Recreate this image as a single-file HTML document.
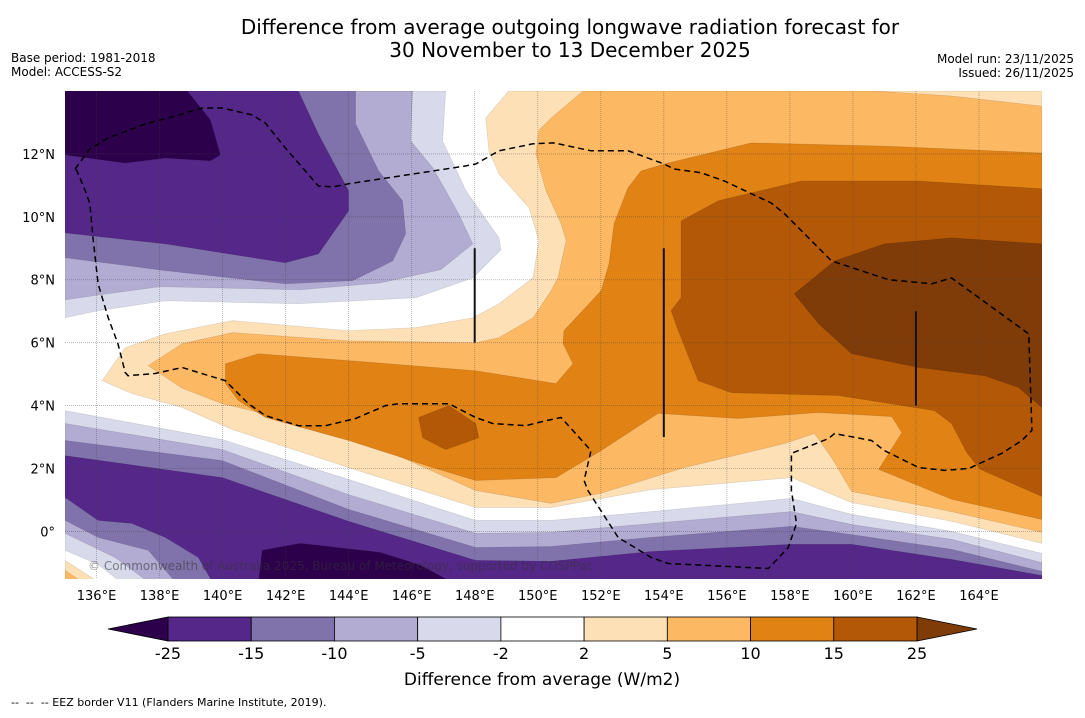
<!DOCTYPE html>
<html><head><meta charset="utf-8"><style>
html,body{margin:0;padding:0;background:#fff;}
body{width:1085px;height:713px;overflow:hidden;font-family:"Liberation Sans","DejaVu Sans",sans-serif;}
svg text{font-family:"DejaVu Sans","Liberation Sans",sans-serif;}
</style></head><body>
<svg id="chart" width="1085" height="713" viewBox="0 0 1085 713" xmlns="http://www.w3.org/2000/svg">
<text x="570" y="34" font-size="20" text-anchor="middle" fill="#000">Difference from average outgoing longwave radiation forecast for</text>
<text x="570" y="57" font-size="20" text-anchor="middle" fill="#000">30 November to 13 December 2025</text>
<text x="11" y="62" font-size="12" fill="#000">Base period: 1981-2018</text>
<text x="11" y="76" font-size="12" fill="#000">Model: ACCESS-S2</text>
<text x="1074" y="63" font-size="12" text-anchor="end" fill="#000">Model run: 23/11/2025</text>
<text x="1074" y="77" font-size="12" text-anchor="end" fill="#000">Issued: 26/11/2025</text>
<defs><clipPath id="mapclip"><rect x="65" y="91" width="977" height="488"/></clipPath></defs>
<g id="map" clip-path="url(#mapclip)">
<rect x="65" y="91" width="977" height="488" fill="#ffffff"/>
<g id="contours"></g>
<g id="grid"></g>
<g id="features"></g>
</g>
<g id="xticks"></g>
<g id="yticks"></g>
<text x="88" y="570" font-size="12" fill="#333" fill-opacity="0.55">© Commonwealth of Australia 2025, Bureau of Meteorology, supported by COSPPac</text>
<g id="colorbar"></g>
<text x="542" y="685" font-size="17" text-anchor="middle" fill="#000">Difference from average (W/m2)</text>
<text x="11" y="706" font-size="11" fill="#000">-- &#160;-- &#160;-- EEZ border V11 (Flanders Marine Institute, 2019).</text>
</svg>
<script>
// ---- data ----
var lonTicks = [136,138,140,142,144,146,148,150,152,154,156,158,160,162,164];
var latTicks = [0,2,4,6,8,10,12];
var levelLabels = ["-25","-15","-10","-5","-2","2","5","10","15","25"];
var levelColors = ["#542788","#8073ac","#b2abd2","#d8daeb","#ffffff","#fee0b6","#fdb863","#e08214","#b35806"];
var extendLowColor = "#2d004b";
var extendHighColor = "#7f3b08";
// contour polygons [lon,lat], painted in order
var polyLe2Top = [[135,14],[147.08,14],[146.98,12.41],[147.72,10.83],[148.77,9.33],[148.83,8.95],[147.94,8.06],[146.13,7.43],[142.41,7.24],[138.18,7.33],[136.05,7.02],[135,6.79]];
var polyLe5Top = [[135,14],[146.03,14],[145.97,12.41],[146.67,11.56],[147.49,10.1],[147.94,9.14],[146.92,8.32],[145.01,7.9],[142.47,7.68],[138.02,7.78],[136.11,7.52],[135,7.36]];
var polyLe10Top = [[135,14],[144.22,14],[144.22,12.96],[144.95,11.46],[145.71,10.51],[145.81,9.46],[145.4,8.6],[144.12,7.97],[141.99,7.87],[138.18,8.29],[135,8.7]];
var polyLe15Top = [[135,14],[142.41,14],[143.04,12.63],[144,10.83],[144,10.19],[143.04,8.82],[141.99,8.54],[138.18,9.14],[135,9.49]];
var polyLe25Top = [[135,14],[138.88,14],[139.61,13.08],[139.93,11.97],[139.61,11.78],[138.18,11.87],[136.91,11.71],[135,11.97]];
var polyLe2Bot = [[135,3.84],[139.99,2.92],[144,1.65],[148.03,0.35],[150.42,0.35],[153.6,0.63],[158.05,1.05],[159.96,0.54],[163.13,0],[166,-0.7],[166,-1.6],[135,-1.6]];
var polyLe5Bot = [[135,3.43],[139.99,2.6],[144,1.17],[148.03,-0.06],[150.42,-0.03],[153.6,0.25],[158.05,0.63],[159.96,0.22],[163.13,-0.25],[166,-0.99],[166,-1.6],[135,-1.6]];
var polyLe10Bot = [[135,2.89],[139.99,2.25],[144,0.7],[148.03,-0.51],[150.42,-0.48],[153.6,-0.19],[158.05,0.16],[159.96,-0.1],[163.13,-0.57],[166,-1.27],[166,-1.6],[135,-1.6]];
var polyLe15Bot = [[135,2.41],[139.99,1.71],[144,0.32],[148.03,-0.92],[150.42,-0.95],[153.6,-0.64],[158.05,-0.41],[159.96,-0.41],[163.13,-0.89],[166,-1.4],[166,-1.6],[135,-1.6]];
var polyCorner10 = [[135,1.08],[136.05,0.35],[137.13,0.25],[138.18,-0.19],[139.23,-0.83],[139.67,-1.6],[135,-1.6]];
var polyCorner5 = [[135,0.35],[136.05,-0.19],[137.64,-0.6],[138.5,-1.6],[135,-1.6]];
var polyCorner2 = [[135,-0.06],[136.59,-0.83],[137.64,-1.6],[135,-1.6]];
var polyCornerW = [[135,-0.6],[136.05,-1.05],[136.75,-1.6],[135,-1.6]];
var polyCornerP2 = [[135,-0.92],[136.05,-1.6],[135,-1.6]];
var polyCornerP5 = [[135,-1.24],[135.54,-1.6],[135,-1.6]];
var polyLe25Bot = [[141.14,-1.6],[141.26,-0.6],[142.47,-0.38],[145.01,-0.67],[146.29,-1.08],[147.24,-1.6]];
var polyGe2 = [[136.18,4.79],[136.91,5.84],[138.18,6.28],[140.31,6.7],[144,6.38],[146.13,6.48],[147.94,6.79],[148.77,7.24],[149.85,8.06],[150.04,9.24],[149.72,10.29],[148.77,11.36],[148.45,12.1],[148.35,13.14],[149.08,14],[166,14],[166,-0.38],[163.13,0.32],[159.96,0.92],[158.05,1.71],[153.6,1.33],[150.42,0.76],[148.03,0.76],[144,2.03],[140.31,3.24],[138.72,3.94],[137.13,4.38]];
var polyGe5 = [[151.44,14],[150.42,13.14],[150.04,12.76],[149.94,12],[150.26,10.83],[150.74,9.78],[150.9,9.24],[150.64,8.06],[150.42,7.65],[149.85,6.79],[148.77,6.16],[148.03,6],[144,6.06],[140.31,6.32],[138.72,5.97],[137.64,5.27],[138.72,4.55],[139.99,4.06],[144,3.11],[148.03,1.3],[150.42,0.89],[152.01,1.21],[154.65,2.03],[157.83,2.79],[158.78,3.11],[159.32,2.35],[159.96,1.27],[163.13,0.63],[166,-0.03],[166,13.52],[163.13,13.84],[160.7,14]];
var polyGe10 = [[153.28,11.46],[154.14,11.71],[156.78,12.35],[161,12.25],[166,12.03],[166,0.38],[163.13,1.02],[160.82,1.97],[161.55,3.14],[161.23,3.65],[158.91,3.78],[156.36,3.59],[153.82,3.75],[152.01,2.57],[150.58,1.71],[148.03,1.62],[146.67,2.03],[144,2.89],[141.36,3.62],[140.5,4.16],[140.09,4.7],[140.09,5.33],[141.14,5.65],[144,5.43],[148.03,5.11],[150.58,4.7],[151.12,5.33],[150.8,5.97],[150.83,6.38],[152.01,7.65],[152.26,8.51],[152.42,9.78],[152.86,10.92]];
var polyGe15 = [[154.55,9.87],[155.73,10.51],[158.37,11.14],[162.09,11.14],[166,10.89],[166,1.11],[164.04,1.97],[163.61,2.51],[163.13,3.43],[162.59,3.84],[159.54,4.32],[156.14,4.41],[155.09,4.79],[154.46,6.38],[154.23,7.02],[154.55,7.43]];
var polyGe15Island = [[146.22,3.62],[147.18,4],[148.03,3.43],[148.13,2.98],[147.08,2.6],[146.35,2.98]];
var polyGe25 = [[158.14,7.55],[159.42,8.6],[161,9.14],[163.13,9.33],[166,9.14],[166,3.94],[165.26,4.57],[164.18,4.95],[162.09,5.21],[159.96,5.65],[158.91,6.6]];
var eezLine = [[135.32,11.52],[135.79,12.16],[136.37,12.51],[137.54,12.95],[138.5,13.21],[139.36,13.46],[139.99,13.46],[140.94,13.24],[141.36,12.98],[141.99,12.19],[143.04,10.98],[143.49,10.95],[144,11.05],[147.72,11.62],[148.03,11.68],[148.77,12.1],[149.85,12.32],[150.51,12.35],[151.69,12.1],[152.87,12.1],[154.01,11.68],[154.33,11.52],[155.19,11.4],[155.92,11.14],[157.41,10.44],[157.83,10.1],[159.32,8.6],[161.13,8.0],[162.5,7.87],[163.13,8.06],[165.58,6.28],[165.68,3.21],[165.36,2.89],[164.72,2.48],[163.67,2.0],[162.91,1.94],[162.09,2.03],[161.0,2.57],[160.59,2.89],[159.42,3.11],[159.22,2.95],[158.05,2.48],[158.05,1.3],[158.21,0.25],[157.95,-0.51],[157.32,-1.18],[154.14,-1.02],[153.6,-0.83],[152.55,-0.19],[151.59,1.3],[151.47,1.62],[151.69,2.57],[150.74,3.62],[150.26,3.52],[149.62,3.36],[148.57,3.43],[148.03,3.62],[147.18,4.06],[145.59,4.06],[145.17,4.0],[144.22,3.59],[143.27,3.36],[142.41,3.36],[141.36,3.68],[140.82,4.06],[140.09,4.79],[138.72,5.21],[137.86,5.02],[137.0,4.95],[136.91,5.05],[136.68,5.97],[136.37,6.79],[136.05,7.87],[135.89,9.33],[135.79,10.41],[135.64,10.83],[135.38,11.46],[135.32,11.52]];
var stationBars = [[148,9,6],[154,9,3],[162,7,4]];

// ---- scales ----
var LON0=135, LON1=166, LAT0=-1.5, LAT1=14;
var X0=65, X1=1042, Y0=91, Y1=578.6;
function xScale(lon){return X0+(lon-LON0)/(LON1-LON0)*(X1-X0);}
function yScale(lat){return Y0+(LAT1-lat)/(LAT1-LAT0)*(Y1-Y0);}
var NS="http://www.w3.org/2000/svg";
function pts(arr){return arr.map(function(p){return xScale(p[0]).toFixed(1)+","+yScale(p[1]).toFixed(1);}).join(" ");}

var layers = [
 [polyLe2Top,3,"contour-le-minus2-north"],[polyLe5Top,2,"contour-le-minus5-north"],[polyLe10Top,1,"contour-le-minus10-north"],[polyLe15Top,0,"contour-le-minus15-north"],[polyLe25Top,-1,"contour-le-minus25-north"],
 [polyGe2,5,"contour-ge2"],[polyGe5,6,"contour-ge5"],[polyGe10,7,"contour-ge10"],[polyGe15,8,"contour-ge15"],[polyGe15Island,8,"contour-ge15-island"],[polyGe25,9,"contour-ge25"],
 [polyLe2Bot,3,"contour-le-minus2-south"],[polyLe5Bot,2,"contour-le-minus5-south"],[polyLe10Bot,1,"contour-le-minus10-south"],[polyLe15Bot,0,"contour-le-minus15-south"],
 [polyCorner10,1,"contour-sw-minus10"],[polyCorner5,2,"contour-sw-minus5"],[polyCorner2,3,"contour-sw-minus2"],[polyCornerW,4,"contour-sw-neutral"],[polyCornerP2,5,"contour-sw-plus2"],[polyCornerP5,6,"contour-sw-plus5"],
 [polyLe25Bot,-1,"contour-le-minus25-south"]
];
function colorFor(i){return i<0?extendLowColor:(i>=levelColors.length?extendHighColor:levelColors[i]);}
var cg=document.getElementById("contours");
layers.forEach(function(L){
 var p=document.createElementNS(NS,"polygon");
 p.setAttribute("points",pts(L[0]));
 p.setAttribute("fill",colorFor(L[1]));
 p.setAttribute("stroke","rgba(0,0,0,0.12)");
 p.setAttribute("stroke-width","0.7");
 
 
 cg.appendChild(p);
});

// graticule
var gg=document.getElementById("grid");
lonTicks.forEach(function(lon){
 var l=document.createElementNS(NS,"line");
 l.setAttribute("x1",xScale(lon));l.setAttribute("x2",xScale(lon));l.setAttribute("y1",Y0);l.setAttribute("y2",Y1);
 l.setAttribute("stroke","#444");l.setAttribute("stroke-opacity","0.45");l.setAttribute("stroke-width","0.8");l.setAttribute("stroke-dasharray","1,1");
 
 
 gg.appendChild(l);
});
latTicks.forEach(function(lat){
 var l=document.createElementNS(NS,"line");
 l.setAttribute("x1",X0);l.setAttribute("x2",X1);l.setAttribute("y1",yScale(lat));l.setAttribute("y2",yScale(lat));
 l.setAttribute("stroke","#444");l.setAttribute("stroke-opacity","0.45");l.setAttribute("stroke-width","0.8");l.setAttribute("stroke-dasharray","1,1");
 
 
 gg.appendChild(l);
});

// features
var fg=document.getElementById("features");
stationBars.forEach(function(b){
 var l=document.createElementNS(NS,"line");
 l.setAttribute("x1",xScale(b[0]));l.setAttribute("x2",xScale(b[0]));l.setAttribute("y1",yScale(b[1]));l.setAttribute("y2",yScale(b[2]));
 l.setAttribute("stroke","#111");l.setAttribute("stroke-width","2");
 
 
 fg.appendChild(l);
});
var eez=document.createElementNS(NS,"polyline");
eez.setAttribute("points",pts(eezLine));
eez.setAttribute("fill","none");eez.setAttribute("stroke","#000");eez.setAttribute("stroke-width","1.5");eez.setAttribute("stroke-dasharray","6,4");


fg.appendChild(eez);

// ticks
var xt=document.getElementById("xticks");
lonTicks.forEach(function(lon){
 var t=document.createElementNS(NS,"text");
 t.setAttribute("x",xScale(lon));t.setAttribute("y",600);t.setAttribute("font-size","13");t.setAttribute("text-anchor","middle");
 t.textContent=lon+"°E";
 
 
 xt.appendChild(t);
});
var yt=document.getElementById("yticks");
latTicks.forEach(function(lat){
 var t=document.createElementNS(NS,"text");
 t.setAttribute("x",55);t.setAttribute("y",yScale(lat)+5);t.setAttribute("font-size","13");t.setAttribute("text-anchor","end");
 t.textContent=lat===0?"0°":lat+"°N";
 
 
 yt.appendChild(t);
});

// colorbar
var cb=document.getElementById("colorbar");
var CBX0=168, CBX1=917, CBY=617, CBH=24, EXT=60;
var n=levelColors.length, bw=(CBX1-CBX0)/n;
var lt=document.createElementNS(NS,"polygon");
lt.setAttribute("points",(CBX0)+","+CBY+" "+(CBX0-EXT)+","+(CBY+CBH/2)+" "+CBX0+","+(CBY+CBH));
lt.setAttribute("fill",extendLowColor);lt.setAttribute("stroke","#000");lt.setAttribute("stroke-width","0.8");


cb.appendChild(lt);
var rt=document.createElementNS(NS,"polygon");
rt.setAttribute("points",(CBX1)+","+CBY+" "+(CBX1+EXT)+","+(CBY+CBH/2)+" "+CBX1+","+(CBY+CBH));
rt.setAttribute("fill",extendHighColor);rt.setAttribute("stroke","#000");rt.setAttribute("stroke-width","0.8");


cb.appendChild(rt);
levelColors.forEach(function(c,i){
 var r=document.createElementNS(NS,"rect");
 r.setAttribute("x",CBX0+i*bw);r.setAttribute("y",CBY);r.setAttribute("width",bw);r.setAttribute("height",CBH);
 r.setAttribute("fill",c);r.setAttribute("stroke","#000");r.setAttribute("stroke-width","0.8");
 
 
 cb.appendChild(r);
});
levelLabels.forEach(function(s,i){
 var t=document.createElementNS(NS,"text");
 t.setAttribute("x",CBX0+i*bw);t.setAttribute("y",659);t.setAttribute("font-size","16");t.setAttribute("text-anchor","middle");
 t.textContent=s;
 
 
 cb.appendChild(t);
});
</script>
</body></html>
